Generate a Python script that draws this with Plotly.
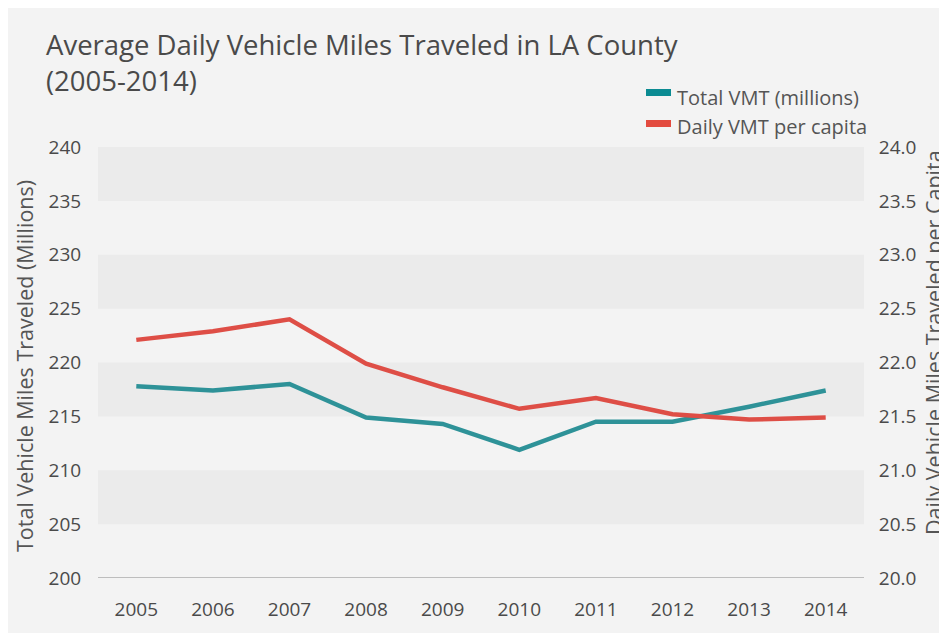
import plotly.graph_objects as go

years = ["2005", "2006", "2007", "2008", "2009", "2010", "2011", "2012", "2013", "2014"]
total_vmt = [217.8, 217.4, 218.0, 214.9, 214.3, 211.9, 214.5, 214.5, 215.9, 217.4]
vmt_per_capita = [22.21, 22.29, 22.40, 21.99, 21.77, 21.57, 21.67, 21.52, 21.47, 21.49]
left_ticks = [200, 205, 210, 215, 220, 225, 230, 235, 240]
right_ticks = [20.0, 20.5, 21.0, 21.5, 22.0, 22.5, 23.0, 23.5, 24.0]
band_ranges = [(205, 210), (215, 220), (225, 230), (235, 240)]

FONT = "Open Sans"
TXT = "#4a4a4a"
TEAL = "#2e9298"
RED = "#de4e46"

W, H = 947, 633
OFF = 8  # page body margin
# plot area in page pixels: x 98..864, y 147..578
L = 98 - OFF
T = 147 - OFF
R = W - (864 - OFF)
B = H - (578 - OFF)
PW, PH = W - L - R, H - T - B


def px(x):
    return (x - OFF - L) / PW


def py(y):
    return (H - B - (y - OFF)) / PH


fig = go.Figure()
fig.add_trace(go.Scatter(x=years, y=total_vmt, name="Total VMT (millions)", mode="lines",
                         line=dict(color=TEAL, width=4.5), yaxis="y"))
fig.add_trace(go.Scatter(x=years, y=vmt_per_capita, name="Daily VMT per capita", mode="lines",
                         line=dict(color=RED, width=4.5), yaxis="y2"))

shapes = []
for a, b in band_ranges:
    shapes.append(dict(type="rect", xref="paper", yref="y", x0=0, x1=1, y0=a, y1=b,
                       fillcolor="#ebebeb", line=dict(width=0), layer="below"))
# legend swatches
shapes.append(dict(type="rect", xref="paper", yref="paper", x0=px(646), x1=px(671), y0=py(96), y1=py(89),
                   fillcolor="#0b8b92", line=dict(width=0)))
shapes.append(dict(type="rect", xref="paper", yref="paper", x0=px(646), x1=px(671), y0=py(127), y1=py(120),
                   fillcolor="#e34b3f", line=dict(width=0)))

annotations = [
    dict(text="Average Daily Vehicle Miles Traveled in LA County<br>(2005-2014)", xref="paper", yref="paper",
         x=px(44), y=py(24), xanchor="left", yanchor="top", align="left", showarrow=False,
         font=dict(family=FONT, size=27.5, color="#4a4a4a")),
    dict(text="Total VMT (millions)", xref="paper", yref="paper", x=px(675), y=py(97),
         xanchor="left", yanchor="middle", showarrow=False, font=dict(family=FONT, size=20, color="#555555")),
    dict(text="Daily VMT per capita", xref="paper", yref="paper", x=px(675), y=py(126),
         xanchor="left", yanchor="middle", showarrow=False, font=dict(family=FONT, size=20, color="#555555")),
    dict(text="Total Vehicle Miles Traveled (Millions)", xref="paper", yref="paper", x=px(24), y=py(366),
         xanchor="center", yanchor="middle", textangle=-90, showarrow=False,
         font=dict(family=FONT, size=21.5, color="#555555")),
    dict(text="Daily Vehicle Miles Traveled per Capita", xref="paper", yref="paper", x=px(933), y=py(343),
         xanchor="center", yanchor="middle", textangle=-90, showarrow=False,
         font=dict(family=FONT, size=21.5, color="#555555")),
]

fig.update_layout(
    width=W, height=H,
    margin=dict(l=L, r=R, t=T, b=B, autoexpand=False),
    paper_bgcolor="#f3f3f3",
    plot_bgcolor="rgba(0,0,0,0)",
    showlegend=False,
    xaxis=dict(type="category", range=[-0.5, 9.5], showgrid=False, zeroline=False,
               showline=False, ticks="outside", ticklen=14, tickcolor="rgba(0,0,0,0)",
               tickfont=dict(family=FONT, size=19, color=TXT)),
    yaxis=dict(range=[200, 240], tickvals=left_ticks, showgrid=False, zeroline=False,
               showline=False, ticks="outside", ticklen=12, tickcolor="rgba(0,0,0,0)",
               tickfont=dict(family=FONT, size=19, color=TXT)),
    yaxis2=dict(range=[20, 24], tickvals=right_ticks, tickformat=".1f", overlaying="y", side="right",
                showgrid=False, zeroline=False, showline=False, ticks="outside", ticklen=10,
                tickcolor="rgba(0,0,0,0)", tickfont=dict(family=FONT, size=19, color=TXT)),
    shapes=shapes,
    annotations=annotations,
)
# bottom axis line
fig.add_hline(y=200, line=dict(color="#bdbdbd", width=2), layer="below")

fig.write_html("out.html")
